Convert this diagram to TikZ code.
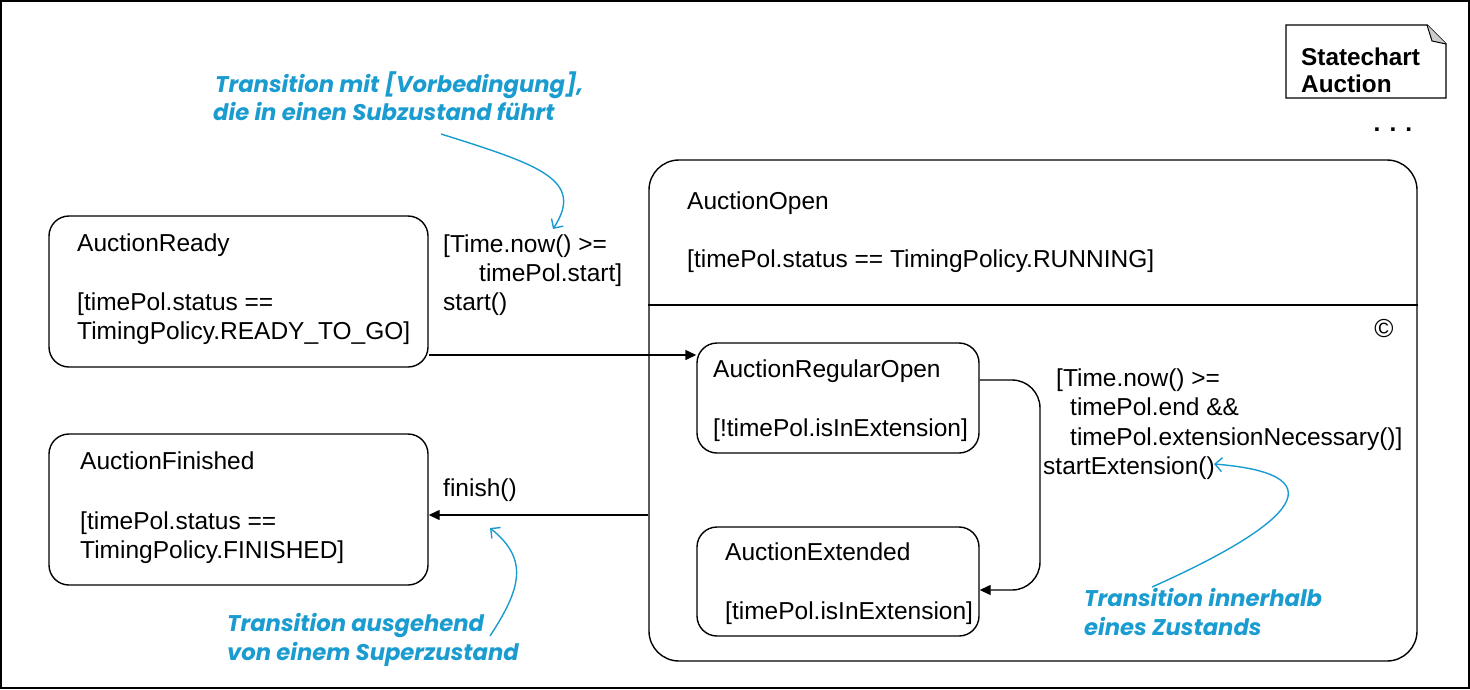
\documentclass[tikz,border=0pt]{standalone}
\usepackage{fontspec}
\setmainfont{Liberation Sans}
\newfontfamily\annfont{Poppins}
\usetikzlibrary{arrows.meta}
\definecolor{annblue}{HTML}{1A9CD0}
\tikzset{
  x=1pt, y=-1pt,
  statebox/.style={draw, line width=1.4pt, rounded corners=20pt, inner sep=0pt},
  txt/.style={anchor=base west, inner sep=0pt, font=\fontsize{24.5}{29}\selectfont},
  ann/.style={anchor=base west, inner sep=0pt, text=annblue, font=\annfont\bfseries\itshape\fontsize{22.7}{26}\selectfont},
  trans/.style={line width=1.4pt, -{Triangle[length=11pt,width=10pt]}},
  annarrow/.style={draw=annblue, line width=1.4pt, -{Straight Barb[length=7pt,width=14pt,line width=1.4pt]}},
}
\begin{document}
\begin{tikzpicture}
\useasboundingbox (0,0) rectangle (1470,689);
\draw[line width=1.5pt] (1,1) rectangle (1469,688);

% note
\draw[line width=1.4pt] (1286,25) -- (1427,25) -- (1446,44) -- (1446,98) -- (1286,98) -- cycle;
\fill[gray!40] (1427,25) -- (1446,44) -- (1432,41) -- cycle;
\draw[line width=1pt] (1427,25) -- (1432,41) -- (1446,44);
\node[anchor=base west, inner sep=0pt, font=\bfseries\fontsize{24.3}{28}\selectfont] (nt1) at (1301,65.5) {Statechart};
\node[anchor=base west, inner sep=0pt, font=\bfseries\fontsize{24.3}{28}\selectfont] (nt2) at (1301,92.5) {Auction};
\node[anchor=base, inner sep=0pt, font=\bfseries\fontsize{24.5}{29}\selectfont] (dots) at (1393,131) {. . .};

% states
\node[statebox, minimum width=379pt, minimum height=151pt] (ready) at (238.5,291.5) {};
\node[statebox, minimum width=379pt, minimum height=151pt] (finished) at (238.5,509.5) {};
\node[statebox, rounded corners=30pt, minimum width=768pt, minimum height=501pt] (open) at (1033,410.5) {};
\draw[line width=1.4pt] (open.west |- 0,305) coordinate (dl) -- (open.east |- 0,305) coordinate (dr);
\node[statebox, minimum width=282pt, minimum height=110pt] (regular) at (838,398) {};
\node[statebox, minimum width=282pt, minimum height=109pt] (extended) at (838,581.5) {};
\node[txt, anchor=base, font=\fontsize{26}{29}\selectfont] (copy) at (1384,337.5) {©};

% texts in states
\node[txt] (r1) at (77,251.5) {AuctionReady};
\node[txt] (r2) at (77,310.5) {[timePol.status ==};
\node[txt] (r3) at (77,339.5) {TimingPolicy.READY\_TO\_GO]};
\node[txt] (f1) at (80,469.5) {AuctionFinished};
\node[txt] (f2) at (80,529.5) {[timePol.status ==};
\node[txt] (f3) at (80,558.5) {TimingPolicy.FINISHED]};
\node[txt] (o1) at (687,209.5) {AuctionOpen};
\node[txt] (o2) at (687,267.5) {[timePol.status == TimingPolicy.RUNNING]};
\node[txt] (g1) at (713,377.5) {AuctionRegularOpen};
\node[txt] (g2) at (713,436.5) {[!timePol.isInExtension]};
\node[txt] (e1) at (725,560.5) {AuctionExtended};
\node[txt] (e2) at (725,619.5) {[timePol.isInExtension]};

% transitions
\draw[trans] (ready.east |- 0,355) -- (regular.west |- 0,355);
\node[txt] (l1) at (443,252.5) {[Time.now() >=};
\node[txt] (l2) at (479,281.5) {timePol.start]};
\node[txt] (l3) at (443,310.5) {start()};

\draw[trans] (open.west |- 0,515) -- (finished.east |- 0,515);
\node[txt] (l4) at (443,496.5) {finish()};

\draw[trans, rounded corners=28pt] (regular.east |- 0,380) -- (1040,380) -- (1040,590) -- (extended.east |- 0,590);
\node[txt] (i1) at (1056,386.5) {[Time.now() >=};
\node[txt] (i2) at (1070,415.5) {timePol.end \&\&};
\node[txt] (i3) at (1070,445.5) {timePol.extensionNecessary()]};
\node[txt] (i4) at (1043,474.5) {startExtension()};

% annotations
\node[ann] (a1) at (215,92) {Transition mit [Vorbedingung],};
\node[ann] (a2) at (213,120) {die in einen Subzustand führt};
\coordinate (a1s) at (441,134);
\coordinate (a1e) at (553,229);
\draw[annarrow] (a1s) .. controls (540,165) and (585,180) .. (a1e);

\node[ann] (b1) at (227,631) {Transition ausgehend};
\node[ann] (b2) at (227,660) {von einem Superzustand};
\coordinate (b1s) at (490,636);
\coordinate (b1e) at (490,528);
\draw[annarrow] (b1s) .. controls (520,590) and (530,560) .. (b1e);

\node[ann] (c1) at (1084,606) {Transition innerhalb};
\node[ann] (c2) at (1084,635) {eines Zustands};
\coordinate (c1s) at (1152,587);
\coordinate (c1e) at (1214,464);
\draw[annarrow] (c1s) .. controls (1280,530) and (1350,475) .. (c1e);
\end{tikzpicture}
\end{document}
